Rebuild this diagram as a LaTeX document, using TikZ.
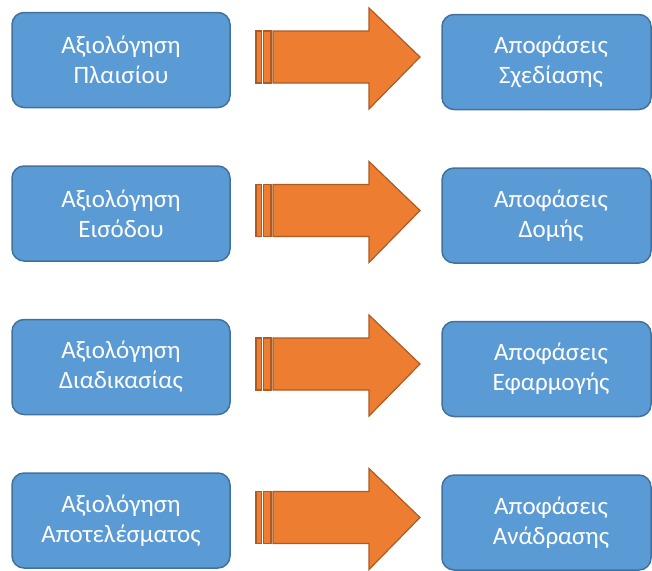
\documentclass[tikz,border=0pt]{standalone}
\usepackage{fontspec}
\setmainfont{Carlito}
\begin{document}
\begin{tikzpicture}[x=1pt,y=-1pt,
  box/.style={draw=boxline,fill=boxfill,line width=1.5pt,rounded corners=12pt,
    text=white,align=center,font=\fontsize{25}{30}\selectfont},
  boxtext/.style={text=white,align=center,font=\fontsize{25}{30}\selectfont},
  arrowpart/.style={draw=arrline,fill=arrfill,line width=1.2pt,line join=miter}]
\definecolor{boxfill}{HTML}{5B9BD5}
\definecolor{boxline}{HTML}{41719C}
\definecolor{arrfill}{HTML}{ED7D31}
\definecolor{arrline}{HTML}{AE5A21}
\useasboundingbox (0,0) rectangle (652,570);
% left column: evaluations, right column: decisions
\foreach \i/\r [count=\k from 0] in {
  {Αξιολόγηση\\Πλαισίου}/{Αποφάσεις\\Σχεδίασης},
  {Αξιολόγηση\\Εισόδου}/{Αποφάσεις\\Δομής},
  {Αξιολόγηση\\Διαδικασίας}/{Αποφάσεις\\Εφαρμογής},
  {Αξιολόγηση\\Αποτελέσματος}/{Αποφάσεις\\Ανάδρασης}}{
  \begin{scope}[yshift={-153.5*\k pt}]
    \node[box,minimum width=218pt,minimum height=95pt] (ev\k) at (121,60) {\i};
    \node[box,minimum width=209pt,minimum height=95pt] (de\k) at (546.5,62) {};
    \node[boxtext] (dt\k) at (551,62) {\r};
    % striped block arrow between the two boxes
    \draw[arrowpart] (256,31) rectangle (261.5,83);
    \draw[arrowpart] (263.5,31) rectangle (271,83);
    \draw[arrowpart] (273,31) -- (369,31) -- (369,8) -- (420,57) -- (369,109)
      -- (369,83) -- (273,83) -- cycle;
  \end{scope}}
\end{tikzpicture}
\end{document}
